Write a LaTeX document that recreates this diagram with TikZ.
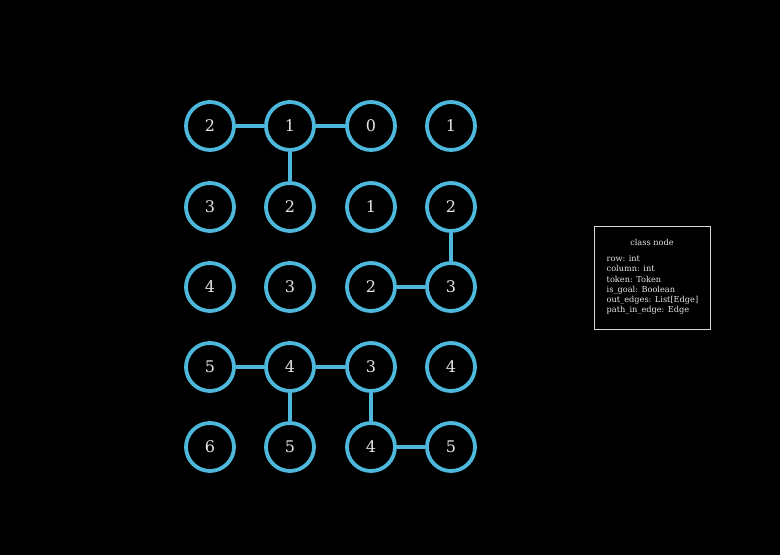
\documentclass[tikz,border=0pt]{standalone}
\usepackage{fontspec}
\setmainfont{DejaVu Serif}
\usetikzlibrary{positioning}
\definecolor{nodeblue}{HTML}{4DB8DB}
\definecolor{textgray}{HTML}{E6E6E6}
\definecolor{boxgray}{HTML}{D8D8D8}
\tikzset{
	cell/.style={circle,draw=nodeblue,line width=3.8pt,minimum size=48pt,inner sep=0pt,text=textgray,font=\fontsize{16}{18}\selectfont},
	link/.style={draw=nodeblue,line width=3.8pt},
	classbox/.style={draw=boxgray,line width=0.8pt,minimum width=116pt,minimum height=103pt,inner sep=0pt},
	classtext/.style={text=textgray,font=\fontsize{8.2}{10.2}\selectfont,inner sep=0pt}
}
\begin{document}
\begin{tikzpicture}[x=1pt,y=1pt]
			\fill[black] (0,0) rectangle (780,555);
			\useasboundingbox (0,0) rectangle (780,555);
			\node[cell] (a1) at (210,429) {2};
			\node[cell] (a2) at (290,429) {1};
			\node[cell] (a3) at (371,429) {0};
			\node[cell] (a4) at (451,429) {1};
			\node[cell] (b1) at (210,348) {3};
			\node[cell] (b2) at (290,348) {2};
			\node[cell] (b3) at (371,348) {1};
			\node[cell] (b4) at (451,348) {2};
			\node[cell] (c1) at (210,268) {4};
			\node[cell] (c2) at (290,268) {3};
			\node[cell] (c3) at (371,268) {2};
			\node[cell] (c4) at (451,268) {3};
			\node[cell] (d1) at (210,188) {5};
			\node[cell] (d2) at (290,188) {4};
			\node[cell] (d3) at (371,188) {3};
			\node[cell] (d4) at (451,188) {4};
			\node[cell] (e1) at (210,108) {6};
			\node[cell] (e2) at (290,108) {5};
			\node[cell] (e3) at (371,108) {4};
			\node[cell] (e4) at (451,108) {5};
			\draw[link] (a1)--(a2) (a2)--(a3) (a2)--(b2);
			\draw[link] (b4)--(c4) (c3)--(c4);
			\draw[link] (d1)--(d2) (d2)--(d3) (d2)--(e2);
			\draw[link] (d3)--(e3) (e3)--(e4);
			\node[classbox] (classnode) at (652,277.5) {};
			\node[classtext] (title) at (652,313) {class node};
			\node[classtext,anchor=north west,align=left] (fields) at (606.5,299.5) {row: int\\column: int\\token: Token\\is\_goal: Boolean\\out\_edges: List[Edge]\\path\_in\_edge: Edge};
	\end{tikzpicture}
\end{document}
